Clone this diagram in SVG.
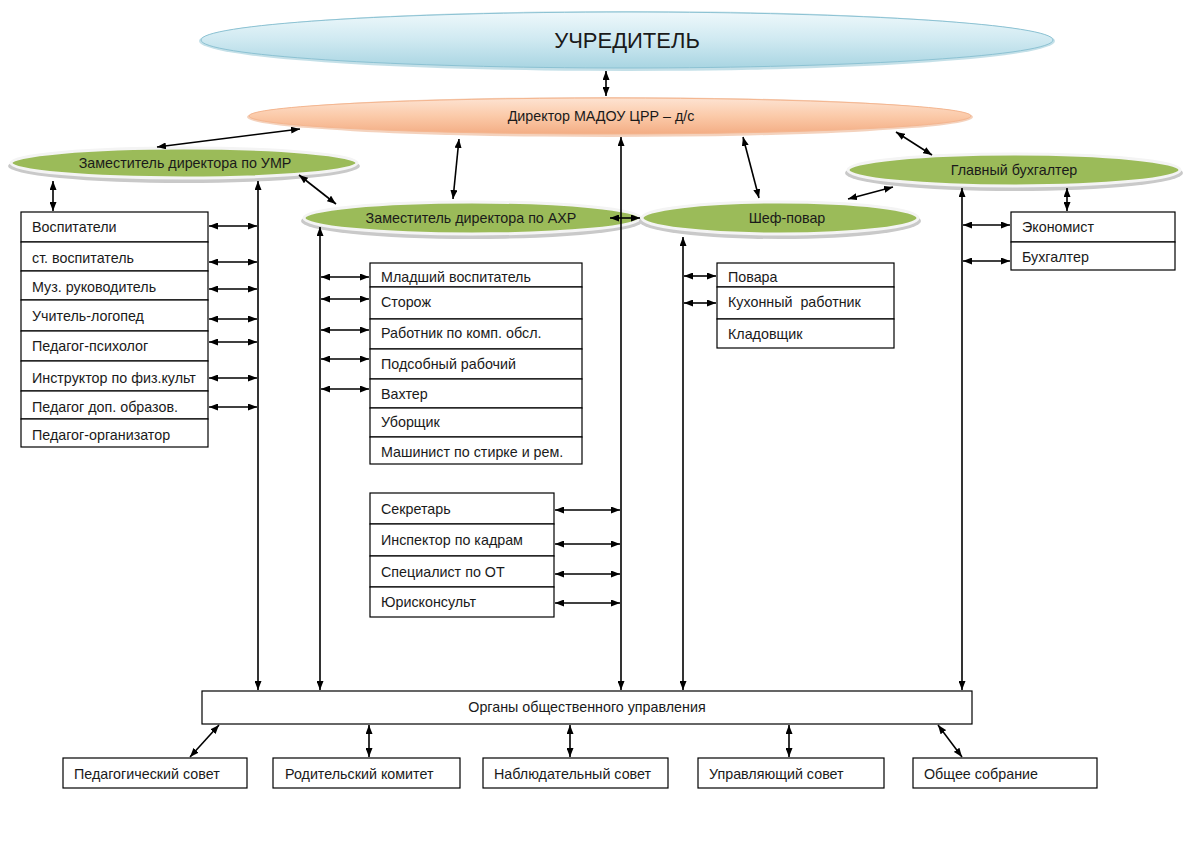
<svg xmlns="http://www.w3.org/2000/svg" width="1184" height="841" viewBox="0 0 1184 841">
<defs>
<linearGradient id="gBlue" x1="0" y1="0" x2="0" y2="1">
<stop offset="0" stop-color="#eef8fb"/><stop offset="0.5" stop-color="#cfe9f1"/><stop offset="1" stop-color="#a9d5e2"/>
</linearGradient>
<linearGradient id="gPeach" x1="0" y1="0" x2="0" y2="1">
<stop offset="0" stop-color="#fde3d2"/><stop offset="0.5" stop-color="#fbcaa9"/><stop offset="1" stop-color="#f3ad84"/>
</linearGradient>
<marker id="a" viewBox="0 0 9 7" refX="9" refY="3.5" markerWidth="9" markerHeight="7" markerUnits="userSpaceOnUse" orient="auto-start-reverse">
<path d="M0,0 L9,3.5 L0,7 z" fill="#000"/>
</marker>
<style>
text{font-family:"Liberation Sans",Arial,sans-serif;font-size:14.3px;fill:#1a1a1a}
.box{fill:#fff;stroke:#000;stroke-width:1.2}
.sh{fill:#c9c9c9}
.grn{fill:#9bbb59;stroke:#f4f4f4;stroke-width:3}
.c line{stroke:#000;stroke-width:1.6}
.d{marker-start:url(#a);marker-end:url(#a)}
.m{text-anchor:middle}
.pre{white-space:pre}
</style>
</defs>
<rect width="1184" height="841" fill="#fff"/>

<g id="uchreditel">
<ellipse cx="627" cy="41" rx="428" ry="30" fill="#9ccbd9" opacity="0.6"/>
<ellipse cx="627" cy="40" rx="426" ry="28" fill="url(#gBlue)" stroke="#8cc2d3" stroke-width="1"/>
<text x="627" y="48" class="m" style="font-size:22px">УЧРЕДИТЕЛЬ</text>
</g>

<g id="director">
<ellipse cx="610" cy="117" rx="363" ry="20" fill="#e9a57c" opacity="0.5"/>
<ellipse cx="610" cy="116" rx="361" ry="18" fill="url(#gPeach)" stroke="#f4b690" stroke-width="1"/>
<text x="601" y="121" class="m">Директор МАДОУ ЦРР – д/с</text>
</g>

<g id="zam-umr">
<ellipse class="sh" cx="184" cy="166" rx="176" ry="17"/>
<ellipse class="grn" cx="184" cy="163" rx="173" ry="15"/>
<text x="185" y="168" class="m">Заместитель директора по УМР</text>
</g>

<g id="zam-ahr">
<ellipse class="sh" cx="472" cy="221" rx="171" ry="18"/>
<ellipse class="grn" cx="472" cy="218" rx="168" ry="16"/>
<text x="471" y="223" class="m">Заместитель директора по АХР</text>
</g>

<g id="shef">
<ellipse class="sh" cx="780" cy="221" rx="141" ry="18"/>
<ellipse class="grn" cx="780" cy="218" rx="138" ry="16"/>
<text x="787" y="223" class="m">Шеф-повар</text>
</g>

<g id="glavbuh">
<ellipse class="sh" cx="1014" cy="173" rx="169" ry="18"/>
<ellipse class="grn" cx="1014" cy="170" rx="166" ry="16"/>
<text x="1014" y="175" class="m">Главный бухгалтер</text>
</g>

<g id="umr-staff">
<rect class="box" x="21" y="212" width="187" height="30"/>
<rect class="box" x="21" y="242" width="187" height="29"/>
<rect class="box" x="21" y="271" width="187" height="29"/>
<rect class="box" x="21" y="300" width="187" height="31"/>
<rect class="box" x="21" y="331" width="187" height="30"/>
<rect class="box" x="21" y="361" width="187" height="30"/>
<rect class="box" x="21" y="391" width="187" height="28"/>
<rect class="box" x="21" y="419" width="187" height="28"/>
<text x="32" y="232">Воспитатели</text>
<text x="32" y="263">ст. воспитатель</text>
<text x="32" y="292">Муз. руководитель</text>
<text x="32" y="321">Учитель-логопед</text>
<text x="32" y="351">Педагог-психолог</text>
<text x="32" y="383">Инструктор по физ.культ</text>
<text x="32" y="412">Педагог доп. образов.</text>
<text x="32" y="440">Педагог-организатор</text>
</g>

<g id="ahr-staff">
<rect class="box" x="370" y="263" width="212" height="24"/>
<rect class="box" x="370" y="287" width="212" height="32"/>
<rect class="box" x="370" y="319" width="212" height="30"/>
<rect class="box" x="370" y="349" width="212" height="30"/>
<rect class="box" x="370" y="379" width="212" height="29"/>
<rect class="box" x="370" y="408" width="212" height="29"/>
<rect class="box" x="370" y="437" width="212" height="27"/>
<text x="381" y="282">Младший воспитатель</text>
<text x="381" y="307">Сторож</text>
<text x="381" y="338">Работник по комп. обсл.</text>
<text x="381" y="369">Подсобный рабочий</text>
<text x="381" y="399">Вахтер</text>
<text x="381" y="427">Уборщик</text>
<text x="381" y="457">Машинист по стирке и рем.</text>
</g>

<g id="office-staff">
<rect class="box" x="370" y="493" width="184" height="31"/>
<rect class="box" x="370" y="524" width="184" height="32"/>
<rect class="box" x="370" y="556" width="184" height="31"/>
<rect class="box" x="370" y="587" width="184" height="30"/>
<text x="381" y="514">Секретарь</text>
<text x="381" y="545">Инспектор по кадрам</text>
<text x="381" y="577">Специалист по ОТ</text>
<text x="381" y="607">Юрисконсульт</text>
</g>

<g id="kitchen-staff">
<rect class="box" x="717" y="263" width="177" height="24"/>
<rect class="box" x="717" y="287" width="177" height="32"/>
<rect class="box" x="717" y="319" width="177" height="29"/>
<text x="728" y="282">Повара</text>
<text x="728" y="307" class="pre">Кухонный  работник</text>
<text x="728" y="339">Кладовщик</text>
</g>

<g id="buh-staff">
<rect class="box" x="1011" y="212" width="164" height="30"/>
<rect class="box" x="1011" y="242" width="164" height="28"/>
<text x="1022" y="232">Экономист</text>
<text x="1022" y="262">Бухгалтер</text>
</g>

<g id="organy">
<rect class="box" x="202" y="691" width="770" height="33"/>
<text x="587" y="712" class="m">Органы общественного управления</text>
</g>

<g id="councils">
<rect class="box" x="63" y="758" width="184" height="30"/>
<rect class="box" x="273" y="758" width="187" height="30"/>
<rect class="box" x="483" y="758" width="185" height="30"/>
<rect class="box" x="698" y="758" width="186" height="30"/>
<rect class="box" x="913" y="758" width="184" height="30"/>
<text x="74" y="779">Педагогический совет</text>
<text x="285" y="779">Родительский комитет</text>
<text x="494" y="779">Наблюдательный совет</text>
<text x="709" y="779">Управляющий совет</text>
<text x="924" y="779">Общее собрание</text>
</g>

<g id="connectors" class="c">
<line class="d" x1="606" y1="71" x2="606" y2="96"/>
<line class="d" x1="300" y1="129" x2="157" y2="147"/>
<line class="d" x1="459" y1="139" x2="453" y2="199"/>
<line class="d" x1="743" y1="137" x2="759" y2="198"/>
<line class="d" x1="896" y1="132" x2="932" y2="155"/>
<line class="d" x1="299" y1="175" x2="336" y2="204"/>
<line class="d" x1="610" y1="218" x2="640" y2="218"/>
<line class="d" x1="848" y1="199" x2="893" y2="187"/>
<line class="d" x1="53" y1="181" x2="53" y2="211"/>
<line class="d" x1="1067" y1="188" x2="1067" y2="211"/>

<line class="d" x1="258" y1="181" x2="258" y2="690"/>
<line class="d" x1="320" y1="227" x2="320" y2="690"/>
<line class="d" x1="621" y1="137" x2="621" y2="690"/>
<line class="d" x1="683" y1="237" x2="683" y2="690"/>
<line class="d" x1="962" y1="188" x2="962" y2="690"/>

<line class="d" x1="209" y1="226" x2="257" y2="226"/>
<line class="d" x1="209" y1="262" x2="257" y2="262"/>
<line class="d" x1="209" y1="289" x2="257" y2="289"/>
<line class="d" x1="209" y1="319" x2="257" y2="319"/>
<line class="d" x1="209" y1="342" x2="257" y2="342"/>
<line class="d" x1="209" y1="378" x2="257" y2="378"/>
<line class="d" x1="209" y1="407" x2="257" y2="407"/>

<line class="d" x1="321" y1="277" x2="369" y2="277"/>
<line class="d" x1="321" y1="299" x2="369" y2="299"/>
<line class="d" x1="321" y1="330" x2="369" y2="330"/>
<line class="d" x1="321" y1="359" x2="369" y2="359"/>
<line class="d" x1="321" y1="389" x2="369" y2="389"/>

<line class="d" x1="555" y1="510" x2="620" y2="510"/>
<line class="d" x1="555" y1="544" x2="620" y2="544"/>
<line class="d" x1="555" y1="574" x2="620" y2="574"/>
<line class="d" x1="555" y1="603" x2="620" y2="603"/>

<line class="d" x1="684" y1="276" x2="716" y2="276"/>
<line class="d" x1="684" y1="303" x2="716" y2="303"/>

<line class="d" x1="963" y1="225" x2="1010" y2="225"/>
<line class="d" x1="963" y1="261" x2="1010" y2="261"/>

<line class="d" x1="219" y1="725" x2="190" y2="757"/>
<line class="d" x1="369" y1="725" x2="369" y2="757"/>
<line class="d" x1="570" y1="725" x2="570" y2="757"/>
<line class="d" x1="789" y1="725" x2="789" y2="757"/>
<line class="d" x1="938" y1="725" x2="962" y2="757"/>
</g>
</svg>
